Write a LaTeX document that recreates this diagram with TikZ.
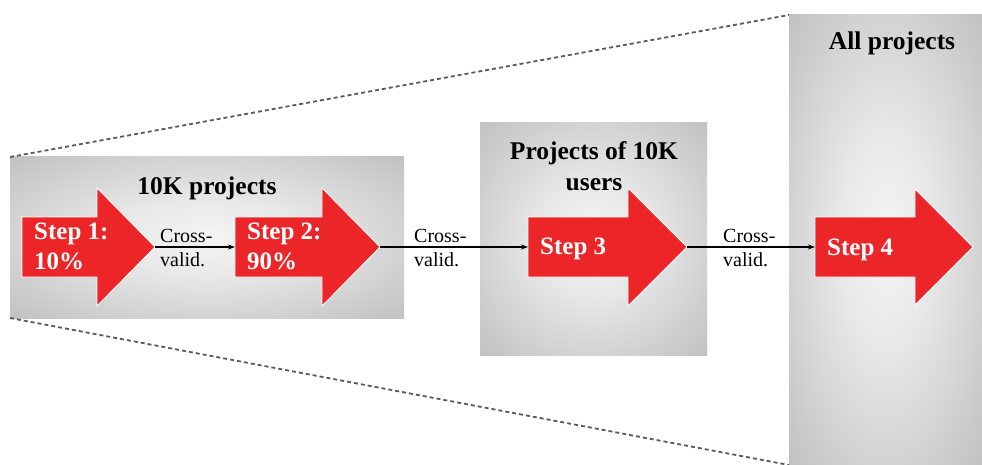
\documentclass[tikz,border=0pt]{standalone}
\usepackage{fontspec}
\setmainfont{Liberation Serif}
\usetikzlibrary{arrows.meta}
\definecolor{arrred}{RGB}{236,38,40}
\definecolor{dashgray}{RGB}{90,90,90}
\pgfdeclareradialshading{panelshade}{\pgfpoint{0bp}{0bp}}{%
  color(0bp)=(gray!8); color(12bp)=(gray!18); color(35bp)=(gray!48); color(55bp)=(gray!64); color(71bp)=(gray!70)}
\tikzset{
  panel/.style={shading=panelshade, draw=none},
  bigarrow/.style={fill=arrred, draw=white, line width=0.8pt, line join=miter},
  steptext/.style={font=\fontsize{25}{30}\selectfont\bfseries, text=white, align=left, inner sep=0pt, anchor=west},
  titletext/.style={font=\fontsize{25.5}{30}\selectfont\bfseries, text=black, align=center, inner sep=0pt},
  cvtext/.style={font=\fontsize{20}{24}\selectfont, text=black, align=left, inner sep=0pt, anchor=west},
  conn/.style={-{Stealth[length=7pt,width=5pt]}, line width=1.1pt, black},
  zoomline/.style={dashgray, line width=1.8pt, dash pattern=on 4pt off 3pt}
}
\begin{document}
\begin{tikzpicture}[x=1pt,y=-1pt]
\useasboundingbox (0,0) rectangle (982,465);
% panels
\path[panel] (10,157) rectangle (404,318);
\path[panel] (480,123) rectangle (707,355);
\path[panel] (789,15) rectangle (982,465);
% perspective dashed lines
\coordinate (z1) at (10,157);
\coordinate (z2) at (789,15);
\coordinate (z3) at (10,318);
\coordinate (z4) at (789,465);
\draw[zoomline] (z1) -- (z2);
\draw[zoomline] (z3) -- (z4);
% titles
\node[titletext, anchor=base] (t1) at (207,195) {10K projects};
\node[titletext, anchor=base] (t2) at (594,190) {Projects of 10K\\users};
\node[titletext, anchor=base] (t3) at (892,50) {All projects};
% big arrows
\draw[bigarrow] (22,217) -- (97,217) -- (97,188) -- (155,247) -- (97,306) -- (97,277) -- (22,277) -- cycle;
\draw[bigarrow] (235,217) -- (322,217) -- (322,188) -- (380,247) -- (322,306) -- (322,277) -- (235,277) -- cycle;
\draw[bigarrow] (528,217) -- (628,217) -- (628,188) -- (687,247) -- (628,306) -- (628,277) -- (528,277) -- cycle;
\draw[bigarrow] (815,217) -- (915,217) -- (915,189) -- (973,247) -- (915,305) -- (915,277) -- (815,277) -- cycle;
\coordinate (a1tip) at (155,247);
\coordinate (a2tail) at (235,247);
\coordinate (a2tip) at (380,247);
\coordinate (a3tail) at (528,247);
\coordinate (a3tip) at (687,247);
\coordinate (a4tail) at (815,247);
% step labels
\node[steptext] (s1) at (34,246) {Step 1:\\10\%};
\node[steptext] (s2) at (247,246) {Step 2:\\90\%};
\node[steptext] (s3) at (540,249) {Step 3};
\node[steptext] (s4) at (827,250) {Step 4};
% connectors
\draw[conn] (a1tip) -- (a2tail);
\draw[conn] (a2tip) -- (a3tail);
\draw[conn] (a3tip) -- (a4tail);
% connector labels
\node[cvtext] (c1) at (160,248) {Cross-\\valid.};
\node[cvtext] (c2) at (414,248) {Cross-\\valid.};
\node[cvtext] (c3) at (723,248) {Cross-\\valid.};
\end{tikzpicture}
\end{document}
